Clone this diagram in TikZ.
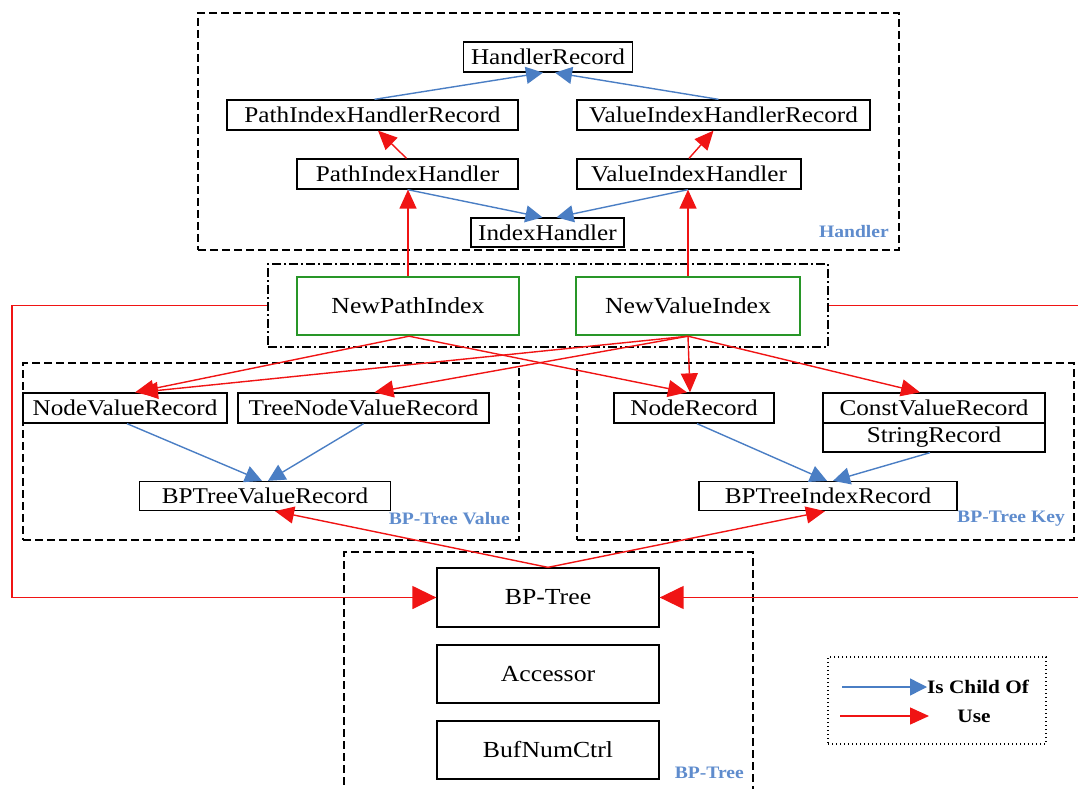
\documentclass[tikz,border=0pt]{standalone}
\usepackage{fontspec}
\setmainfont{Liberation Serif}[FakeStretch=1.12]
\usetikzlibrary{arrows.meta,calc}
\definecolor{ured}{RGB}{240,20,20}
\definecolor{ublue}{RGB}{74,126,196}
\definecolor{ugreen}{RGB}{40,150,40}
\definecolor{ulabel}{RGB}{95,140,205}
\tikzset{
  box/.style={draw=black, line width=1.3pt, inner sep=0pt, fill=white, font=\fontsize{22.5}{24}\selectfont},
  gbox/.style={draw=ugreen, line width=2.4pt, inner sep=0pt, font=\fontsize{23}{25}\selectfont},
  bigbox/.style={draw=black, line width=1.3pt, inner sep=0pt, minimum width=222pt, minimum height=58pt, font=\fontsize{23}{25}\selectfont},
  grp/.style={draw=black, line width=1.6pt, dash pattern=on 8pt off 4pt, inner sep=0pt},
  dgrp/.style={draw=black, line width=1.6pt, dash pattern=on 9pt off 3pt on 2pt off 3pt, inner sep=0pt},
  lgrp/.style={draw=black, line width=1.3pt, dash pattern=on 1.3pt off 2.7pt, inner sep=0pt},
  glabel/.style={text=ulabel, font=\bfseries\fontsize{17.5}{19}\selectfont, anchor=east, inner sep=0pt},
  usearrow/.style={draw=ured, line width=1.4pt, -{Triangle[length=19pt,width=17pt]}},
  bigusearrow/.style={draw=ured, line width=1.4pt, -{Triangle[length=24pt,width=23pt]}},
  childarrow/.style={draw=ublue, line width=1.4pt, -{Triangle[length=17pt,width=17pt]}},
  legtext/.style={font=\bfseries\fontsize{19}{21}\selectfont, inner sep=0pt},
}
\begin{document}
\begin{tikzpicture}[x=1pt,y=-1pt]
\useasboundingbox (0,0) rectangle (1078,789);
% groups
\node[grp, minimum width=701pt, minimum height=237pt] (hgrp) at (548.5,131.5) {};
\node[dgrp, minimum width=560pt, minimum height=83pt] (mgrp) at (548,305.5) {};
\node[grp, minimum width=496pt, minimum height=177pt] (vgrp) at (271,451.5) {};
\node[grp, minimum width=497pt, minimum height=177pt] (kgrp) at (825.5,451.5) {};
\node[grp, minimum width=409pt, minimum height=253pt] (tgrp) at (548.5,678.5) {};
\node[lgrp, minimum width=218pt, minimum height=87pt] (leg) at (937,700.5) {};
\node[glabel] (lh) at (889,232) {Handler};
\node[glabel] (lv) at (510,519) {BP-Tree Value};
\node[glabel] (lk) at (1065,519) {BP-Tree Key};
\node[glabel] (lt) at (744,773) {BP-Tree};
% handler nodes
\node[box, minimum width=169pt, minimum height=30pt] (hr) at (548,57) {HandlerRecord};
\node[box, minimum width=291pt, minimum height=30pt] (pihr) at (372.5,115) {PathIndexHandlerRecord};
\node[box, minimum width=293pt, minimum height=30pt] (vihr) at (723.5,115) {ValueIndexHandlerRecord};
\node[box, minimum width=221pt, minimum height=30pt] (pih) at (407.5,174) {PathIndexHandler};
\node[box, minimum width=224pt, minimum height=30pt] (vih) at (689,174) {ValueIndexHandler};
\node[box, minimum width=153pt, minimum height=29pt] (ih) at (547.5,232.5) {IndexHandler};
% middle
\node[gbox, minimum width=222pt, minimum height=58pt] (npi) at (408,306) {NewPathIndex};
\node[gbox, minimum width=224pt, minimum height=58pt] (nvi) at (688,306) {NewValueIndex};
% bp-tree value
\node[box, minimum width=204pt, minimum height=30pt] (nvr) at (125,408) {NodeValueRecord};
\node[box, minimum width=251pt, minimum height=30pt] (tnvr) at (363.5,408) {TreeNodeValueRecord};
\node[box, minimum width=251pt, minimum height=29pt] (bptvr) at (265,496) {BPTreeValueRecord};
% bp-tree key
\node[box, minimum width=160pt, minimum height=30pt] (nr) at (694,408) {NodeRecord};
\node[box, minimum width=222pt, minimum height=30pt] (cvr) at (934,408) {ConstValueRecord};
\node[box, minimum width=222pt, minimum height=29pt] (sr) at (934,437.5) {StringRecord};
\node[box, minimum width=258pt, minimum height=29pt] (bptir) at (828,496) {BPTreeIndexRecord};
% bp-tree
\node[bigbox, minimum height=59pt] (bpt) at (548,597.5) {BP-Tree};
\node[bigbox] (acc) at (548,674) {Accessor};
\node[bigbox] (bnc) at (548,750) {BufNumCtrl};
% handler connectors
\draw[childarrow] ([xshift=2pt]pihr.north) -- ([xshift=-5pt]hr.south);
\draw[childarrow] ([xshift=-5pt]vihr.north) -- ([xshift=7pt]hr.south);
\draw[usearrow] ([xshift=-1pt]pih.north) -- ([xshift=5.5pt]pihr.south);
\draw[usearrow] (vih.north) -- ([xshift=-10pt]vihr.south);
\draw[childarrow] (pih.south) -- ([xshift=-5pt]ih.north);
\draw[childarrow] ([xshift=-1pt]vih.south) -- ([xshift=9pt]ih.north);
\draw[usearrow] (npi.north) -- (npi.north |- pih.south);
\draw[usearrow] (nvi.north) -- (nvi.north |- vih.south);
% middle connectors
\draw[usearrow] ([xshift=1pt]npi.south) -- ([xshift=10pt]nvr.north);
\draw[usearrow] ([xshift=1pt]npi.south) -- ([xshift=-7pt]nr.north);
\draw[usearrow] (nvi.south) -- ([xshift=14pt]nvr.north);
\draw[usearrow] (nvi.south) -- ([xshift=11pt]tnvr.north);
\draw[usearrow] (nvi.south) -- ([xshift=-4pt]nr.north);
\draw[usearrow] (nvi.south) -- ([xshift=-14pt]cvr.north);
% child connectors
\draw[childarrow] ([xshift=2pt]nvr.south) -- ([xshift=-3pt]bptvr.north);
\draw[childarrow] (tnvr.south) -- ([xshift=3pt]bptvr.north);
\draw[childarrow] ([xshift=3pt]nr.south) -- ([xshift=-1pt]bptir.north);
\draw[childarrow] ([xshift=-4pt]sr.south) -- ([xshift=5pt]bptir.north);
% bp-tree uses
\draw[usearrow] (bpt.north) -- ([xshift=10pt]bptvr.south);
\draw[usearrow] (bpt.north) -- ([xshift=-3pt]bptir.south);
\coordinate (lc) at (12,450);
\coordinate (rc) at (1083,450);
\draw[bigusearrow] (mgrp.west) -| (lc) |- (bpt.west);
\draw[bigusearrow] (mgrp.east) -| (rc) |- (bpt.east);
% legend
\coordinate (l1a) at (842,687);
\coordinate (l2a) at (840,716);
\node[legtext, anchor=west] (t1) at (927,687) {Is Child Of};
\node[legtext] (t2) at (974,716) {Use};
\draw[childarrow] (l1a) -- (t1.west);
\draw[usearrow] (l2a) -- (929,716) coordinate (l2b);
\end{tikzpicture}
\end{document}
